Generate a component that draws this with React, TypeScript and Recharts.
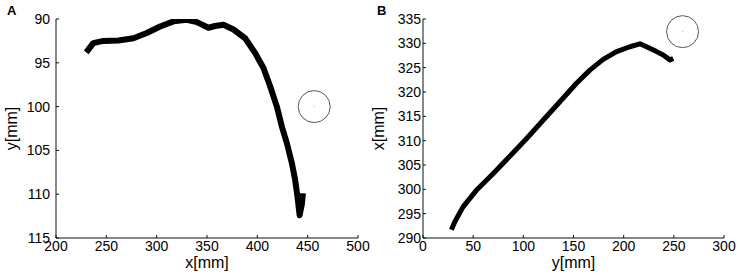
import React from 'react';
import { LineChart, Line, XAxis, YAxis, ReferenceDot } from 'recharts';

// Panel A: trajectory in the x-y plane (mm)
const trackAX = [230, 232.1, 237, 247, 262, 276.9, 290.2, 303.4, 316.7, 330, 340, 351.4, 358, 366.4, 376.3, 387.9, 397.9, 406.1, 412.8, 419.4, 424.4, 429.4, 434.4, 437.6, 439.9, 442, 444.3, 445.3];
const trackAY = [93.8, 93.5, 92.75, 92.5, 92.45, 92.2, 91.6, 90.85, 90.27, 90.1, 90.35, 91.0, 90.8, 90.65, 91.2, 92.2, 93.9, 95.6, 97.7, 100.0, 102.3, 104.2, 106.5, 108.4, 110.3, 112.4, 111.1, 109.9];
const targetA = { x: 456.5, y: 100 };
const ticksAX = [200, 250, 300, 350, 400, 450, 500];
const ticksAY = [90, 95, 100, 105, 110, 115];

// Panel B: trajectory in the y-x plane (mm)
const trackBX = [28.3, 31.6, 39.9, 53.2, 69.8, 86.5, 103.1, 119.7, 136.4, 153, 166.3, 179.6, 192.9, 206.2, 216.2, 222.8, 232.8, 239.4, 246.1, 249.4];
const trackBY = [291.7, 293.3, 296.4, 299.8, 303.2, 306.8, 310.4, 314.2, 318, 321.8, 324.5, 326.7, 328.3, 329.3, 329.9, 329.3, 328.3, 327.6, 326.6, 326.9];
const targetB = { x: 258.7, y: 332.4 };
const ticksBX = [0, 50, 100, 150, 200, 250, 300];
const ticksBY = [290, 295, 300, 305, 310, 315, 320, 325, 330, 335];

const FONT = '"Liberation Sans", Arial, Helvetica, sans-serif';
const AXIS_COLOR = '#111';

const YTitle = ({ viewBox, text, shift }: any) => {
  const cx = viewBox.x + shift;
  const cy = viewBox.y + viewBox.height / 2;
  return (
    <text x={cx} y={cy} transform={`rotate(-90 ${cx} ${cy})`} textAnchor="middle" fontSize={16} fill="#000" fontFamily={FONT}>
      {text}
    </text>
  );
};

interface PanelProps {
  left: number;
  width: number;
  yAxisWidth: number;
  rightMargin: number;
  xs: number[];
  ys: number[];
  target: { x: number; y: number };
  xTicks: number[];
  yTicks: number[];
  reversed: boolean;
  xTitle: string;
  yTitle: string;
  yTitleShift: number;
  yTickMargin: number;
  letter: string;
  lineWidth: number;
}

const Panel = (p: PanelProps) => {
  const data = p.xs.map((x, i) => ({ x, y: p.ys[i] }));
  const xDomain = [p.xTicks[0], p.xTicks[p.xTicks.length - 1]];
  const yDomain = [p.yTicks[0], p.yTicks[p.yTicks.length - 1]];
  const tickStyle = { fill: '#000', fontSize: 14, fontFamily: FONT };
  return (
    <div style={{ position: 'absolute', left: p.left, top: 0, width: p.width, height: 276 }}>
      <div style={{ position: 'absolute', left: 7, top: 3, fontFamily: FONT, fontWeight: 'bold', fontSize: 13 }}>{p.letter}</div>
      <LineChart width={p.width} height={276} data={data} margin={{ top: 19, right: p.rightMargin, bottom: 0, left: 0 }}>
        <XAxis
          xAxisId="b"
          type="number"
          dataKey="x"
          domain={xDomain}
          ticks={p.xTicks}
          allowDataOverflow
          height={38}
          stroke={AXIS_COLOR}
          tickSize={-3}
          tickMargin={6}
          tick={tickStyle}
          interval={0}
          label={{ value: p.xTitle, position: 'insideBottom', offset: 8, fill: '#000', fontSize: 16, fontFamily: FONT }}
        />
        <XAxis xAxisId="t" orientation="top" type="number" dataKey="x" domain={xDomain} ticks={p.xTicks} allowDataOverflow height={0} stroke={AXIS_COLOR} tickSize={-3} tick={false} interval={0} />
        <YAxis
          yAxisId="l"
          type="number"
          domain={yDomain}
          ticks={p.yTicks}
          reversed={p.reversed}
          allowDataOverflow
          width={p.yAxisWidth}
          stroke={AXIS_COLOR}
          tickSize={-3}
          tickMargin={p.yTickMargin}
          tick={tickStyle}
          interval={0}
          label={<YTitle text={p.yTitle} shift={p.yTitleShift} />}
        />
        <YAxis yAxisId="r" orientation="right" type="number" domain={yDomain} ticks={p.yTicks} reversed={p.reversed} allowDataOverflow width={0} stroke={AXIS_COLOR} tickSize={-3} tick={false} interval={0} />
        <Line
          xAxisId="b"
          yAxisId="l"
          dataKey="y"
          type="linear"
          stroke="#000"
          strokeWidth={p.lineWidth}
          strokeLinejoin="round"
          dot={false}
          isAnimationActive={false}
        />
        <ReferenceDot xAxisId="b" yAxisId="l" x={p.target.x} y={p.target.y} r={16} fill="none" stroke="#555" strokeWidth={1} />
        <ReferenceDot xAxisId="b" yAxisId="l" x={p.target.x} y={p.target.y} r={0.7} fill="#bbb" stroke="none" />
      </LineChart>
    </div>
  );
};

export default function App() {
  return (
    <div style={{ position: 'absolute', left: 0, top: 0, width: 743, height: 276, background: '#fff' }}>
      <Panel
        left={0}
        width={370}
        yAxisWidth={56}
        rightMargin={12}
        xs={trackAX}
        ys={trackAY}
        target={targetA}
        xTicks={ticksAX}
        yTicks={ticksAY}
        reversed
        xTitle="x[mm]"
        yTitle="y[mm]"
        yTitleShift={17}
        yTickMargin={9}
        letter="A"
        lineWidth={6}
      />
      <Panel
        left={370}
        width={373}
        yAxisWidth={53}
        rightMargin={19}
        xs={trackBX}
        ys={trackBY}
        target={targetB}
        xTicks={ticksBX}
        yTicks={ticksBY}
        reversed={false}
        xTitle="y[mm]"
        yTitle="x[mm]"
        yTitleShift={14}
        yTickMargin={5}
        letter="B"
        lineWidth={5}
      />
    </div>
  );
}
